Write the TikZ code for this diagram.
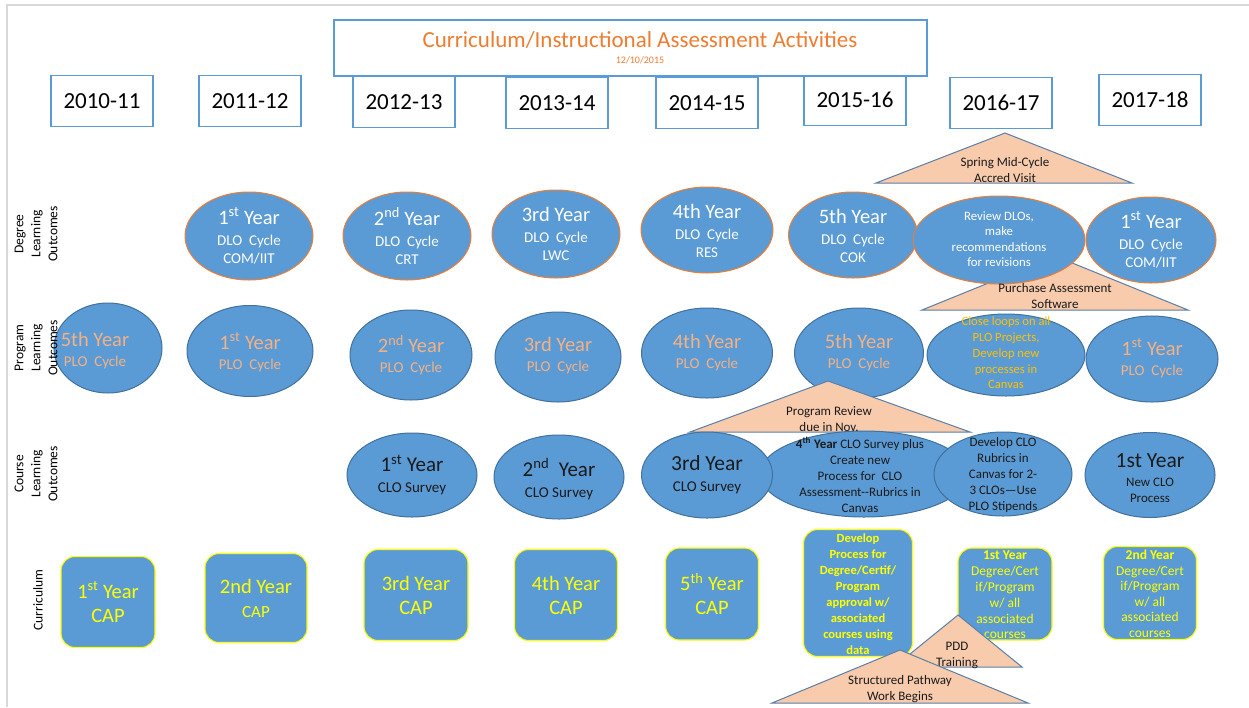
\documentclass[tikz,border=0pt]{standalone}
\usepackage{fontspec}
\setmainfont{Carlito}
\usetikzlibrary{shapes.geometric}
\definecolor{blu}{HTML}{5B9BD5}
\definecolor{dloline}{HTML}{ED7D31}
\definecolor{ploline}{HTML}{41719C}
\definecolor{titleor}{HTML}{ED7D31}
\definecolor{plotext}{HTML}{F4B183}
\definecolor{gold}{HTML}{FFC000}
\definecolor{yel}{HTML}{FFFF00}
\definecolor{trifill}{HTML}{F8CBAD}
\definecolor{triline}{HTML}{5A7FA8}
\definecolor{framegray}{HTML}{D9D9D9}
\definecolor{dark}{HTML}{1A1A1A}
\newcommand{\fsz}[2]{\fontsize{#1}{#2}\selectfont}
\newcommand{\bigline}[1]{{\fsz{20.5}{22}#1}}
\tikzset{
  yearbox/.style={draw=blu, line width=1.1pt, fill=white, minimum width=102pt, minimum height=51pt, inner sep=0pt, font=\fsz{23}{26}},
  titlebox/.style={draw=blu, line width=1.1pt, fill=white, minimum width=593pt, minimum height=56pt, inner sep=0pt},
  ell/.style={ellipse, fill=blu, line width=1pt, inner sep=0pt},
  dloell/.style={ell, draw=dloline},
  ploell/.style={ell, draw=ploline},
  txt/.style={align=center, inner sep=0pt},
  dlotxt/.style={txt, text=white, font=\fsz{15}{18}},
  plotxt/.style={txt, text=plotext, font=\fsz{15}{18}},
  clotxt/.style={txt, text=dark},
  capbox/.style={draw=yel, line width=1.1pt, fill=blu, rounded corners=14pt, inner sep=0pt},
  captxt/.style={txt, text=yel},
  tri/.style={fill=trifill, draw=triline, line width=1pt, line join=miter},
  tritxt/.style={txt, text=dark, font=\fsz{13}{16}},
  rowlab/.style={txt, rotate=90, font=\fsz{13.5}{17}, text=black},
}
\begin{document}
\begin{tikzpicture}[x=1pt,y=-1pt]
\useasboundingbox (0,0) rectangle (1249,707);
\fill[white] (0,0) rectangle (1249,707);
\draw[framegray, line width=1.5pt] (7,707) -- (7,5) -- (1249,5);

% year boxes
\node[yearbox] (y1) at (102,101) {2010-11};
\node[yearbox] (y2) at (250,101) {2011-12};
\node[yearbox] (y3) at (404,102) {2012-13};
\node[yearbox] (y4) at (557,103) {2013-14};
\node[yearbox] (y5) at (707,103) {2014-15};
\node[yearbox] (y6) at (855,100) {2015-16};
\node[yearbox] (y7) at (1001,103) {2016-17};
\node[yearbox] (y8) at (1150,100) {2017-18};

% title
\node[titlebox] (title) at (630.5,48) {};
\node[txt, text=titleor, font=\fsz{23}{26}] (titletxt) at (640,40) {Curriculum/Instructional Assessment Activities};
\node[txt, text=titleor, font=\fsz{10}{12}] (date) at (640,60) {12/10/2015};

% triangles (behind)
\draw[tri] (1005,133) -- (1132,183) -- (876,183) -- cycle;
\draw[tri] (1055,256) -- (1188,310) -- (922,310) -- cycle;

% DLO row
\node[dloell, minimum width=128pt, minimum height=88pt] (d1) at (249,236) {};
\node[dloell, minimum width=128pt, minimum height=88pt] (d2) at (407,236) {};
\node[dloell, minimum width=128pt, minimum height=88pt] (d3) at (556,234) {};
\node[dloell, minimum width=132pt, minimum height=86pt] (d4) at (707,230) {};
\node[dloell, minimum width=129pt, minimum height=86pt] (d5) at (853,235) {};
\node[dloell, minimum width=172pt, minimum height=88pt] (d6) at (999,240) {};
\node[dloell, minimum width=130pt, minimum height=86pt] (d7) at (1151,240) {};
\node[dlotxt] at (249,236) {\bigline{1\textsuperscript{st} Year}\\[3pt]DLO\ \ Cycle\\COM/IIT};
\node[dlotxt] at (407,236) {\bigline{2\textsuperscript{nd} Year}\\[3pt]DLO\ \ Cycle\\CRT};
\node[dlotxt] at (556,234) {\bigline{3rd Year}\\[3pt]DLO\ \ Cycle\\LWC};
\node[dlotxt] at (707,231) {\bigline{4th Year}\\[3pt]DLO\ \ Cycle\\RES};
\node[dlotxt] at (853,236) {\bigline{5th Year}\\[3pt]DLO\ \ Cycle\\COK};
\node[dlotxt, font=\fsz{12.8}{15.5}] at (999,239) {Review DLOs,\\make\\recommendations\\for revisions};
\node[dlotxt] at (1151,240) {\bigline{1\textsuperscript{st} Year}\\[3pt]DLO\ \ Cycle\\COM/IIT};
\node[tritxt] at (1005,170) {Spring Mid-Cycle\\Accred Visit};
\node[tritxt] at (1055,296) {Purchase Assessment\\Software};

% PLO row
\node[ploell, minimum width=108pt, minimum height=90pt] (p0) at (108,348) {};
\node[ploell, minimum width=126pt, minimum height=91pt] (p1) at (250,351) {};
\node[ploell, minimum width=122pt, minimum height=90pt] (p2) at (411,355) {};
\node[ploell, minimum width=126pt, minimum height=90pt] (p3) at (558,357) {};
\node[ploell, minimum width=131pt, minimum height=90pt] (p4) at (707,353) {};
\node[ploell, minimum width=129pt, minimum height=90pt] (p5) at (859,353) {};
\node[ploell, minimum width=158pt, minimum height=82pt] (p6) at (1006,355) {};
\node[ploell, minimum width=132pt, minimum height=86pt] (p7) at (1152,359) {};
\node[plotxt] at (95,351) {\bigline{5th Year}\\[2pt]PLO\ \ Cycle};
\node[plotxt] at (250,352) {\bigline{1\textsuperscript{st} Year}\\[2pt]PLO\ \ Cycle};
\node[plotxt] at (411,355) {\bigline{2\textsuperscript{nd} Year}\\[2pt]PLO\ \ Cycle};
\node[plotxt] at (558,356) {\bigline{3rd Year}\\[2pt]PLO\ \ Cycle};
\node[plotxt] at (707,353) {\bigline{4th Year}\\[2pt]PLO\ \ Cycle};
\node[plotxt] at (859,353) {\bigline{5th Year}\\[2pt]PLO\ \ Cycle};
\node[txt, text=gold, font=\fsz{12.6}{15.7}] at (1006,353) {Close loops on all\\PLO Projects,\\Develop new\\processes in\\Canvas};
\node[plotxt] at (1152,358) {\bigline{1\textsuperscript{st} Year}\\[2pt]PLO\ \ Cycle};

% Program review triangle (over PLO ellipse)
\draw[tri] (828,381) -- (970,432) -- (690,432) -- cycle;

% CLO row
\node[ploell, minimum width=208pt, minimum height=86pt] (c4) at (864,474) {};
\node[ploell, minimum width=130pt, minimum height=84pt] (c1) at (412,475) {};
\node[ploell, minimum width=130pt, minimum height=84pt] (c2) at (559,477) {};
\node[ploell, minimum width=131pt, minimum height=86pt] (c3) at (707,475) {};
\node[ploell, minimum width=138pt, minimum height=84pt] (c5) at (1003,474) {};
\node[ploell, minimum width=130pt, minimum height=85pt] (c6) at (1150,475) {};
\node[clotxt, font=\fsz{15}{18}] at (412,475) {{\fsz{21}{22}1\textsuperscript{st} Year}\\[3pt]CLO Survey};
\node[clotxt, font=\fsz{15}{18}] at (559,479) {{\fsz{21}{22}2\textsuperscript{nd}\ \ Year}\\[3pt]CLO Survey};
\node[clotxt, font=\fsz{15}{18}] at (707,475) {{\fsz{21.5}{22}3rd Year}\\[3pt]CLO Survey};
\node[clotxt, font=\fsz{13}{16}] at (860,475) {\textbf{4\textsuperscript{th} Year} CLO Survey plus\\Create new\\Process for\ \ CLO\\Assessment-{}-Rubrics in\\Canvas};
\node[clotxt, font=\fsz{13}{16}] at (1003,475) {Develop CLO\\Rubrics in\\Canvas for 2-\\3 CLOs—Use\\PLO Stipends};
\node[clotxt, font=\fsz{13}{16}] at (1150,478) {{\fsz{21.5}{22}1st Year}\\[3pt]New CLO\\Process};
\node[tritxt] at (829,419) {Program Review\\due in Nov.};

% Curriculum row
\node[capbox, minimum width=94pt, minimum height=91pt] (k1) at (108,602) {};
\node[capbox, minimum width=102pt, minimum height=89pt] (k2) at (256,598) {};
\node[capbox, minimum width=104pt, minimum height=91pt] (k3) at (416,595) {};
\node[capbox, minimum width=103pt, minimum height=91pt] (k4) at (566,595) {};
\node[capbox, minimum width=93pt, minimum height=92pt] (k5) at (712,594) {};
\node[capbox, minimum width=109pt, minimum height=127pt] (k6) at (858,593) {};
\node[capbox, minimum width=94pt, minimum height=92pt] (k7) at (1005,594) {};
\node[capbox, minimum width=93pt, minimum height=93pt] (k8) at (1150,593) {};
\node[captxt, font=\fsz{20.5}{24}] at (108,602) {1\textsuperscript{st} Year\\CAP};
\node[captxt, font=\fsz{17}{24}] at (256,598) {{\fsz{20.5}{24}2nd Year}\\CAP};
\node[captxt, font=\fsz{20.5}{24}] at (416,595) {3rd Year\\CAP};
\node[captxt, font=\fsz{20.5}{24}] at (566,595) {4th Year\\CAP};
\node[captxt, font=\fsz{20.5}{24}] at (712,594) {5\textsuperscript{th} Year\\CAP};
\node[captxt, font=\bfseries\fsz{12.5}{16}] at (858,594) {Develop\\Process for\\Degree/Certif/\\Program\\approval w/\\associated\\courses using\\data};
\node[captxt, font=\fsz{13.5}{15.8}] at (1005,595) {\textbf{1st Year}\\Degree/Cert\\if/Program\\w/ all\\associated\\courses};
\node[captxt, font=\fsz{13.5}{15.5}] at (1150,594) {\textbf{2nd Year}\\Degree/Cert\\if/Program\\w/ all\\associated\\courses};

% bottom triangles
\draw[tri] (958,615) -- (1022,667) -- (894,667) -- cycle;
\node[tritxt] at (957,655) {PDD\\Training};
\draw[tri] (900,650) -- (1028,703) -- (772,703) -- cycle;
\node[tritxt] at (900,689) {Structured Pathway\\Work Begins};

% row labels (on top)
\node[rowlab] (lab1) at (36,234) {Degree\\Learning\\Outcomes};
\node[rowlab] (lab2) at (36,348) {Program\\Learning\\Outcomes};
\node[rowlab] (lab3) at (36,474) {Course\\Learning\\Outcomes};
\node[rowlab] (lab4) at (38,600) {Curriculum};
\end{tikzpicture}
\end{document}
